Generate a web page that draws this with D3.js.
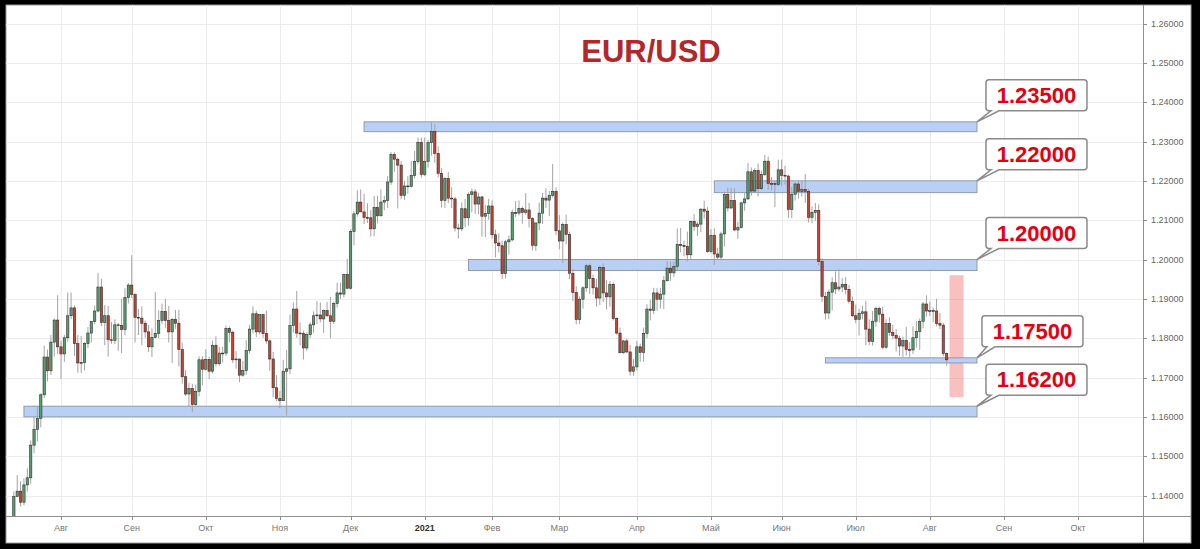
<!DOCTYPE html>
<html><head><meta charset="utf-8">
<script src="https://cdn.jsdelivr.net/npm/d3@7"></script>
<style>html,body{margin:0;padding:0;background:#000;}svg{display:block}</style>
</head><body><svg id="chart" width="1200" height="549"></svg>
<script>
// ---- data (EUR/USD daily) ----
const firstDay = "2020-07-14";
const lastAxisDay = "2021-10-01";
const skippedDays = ["2020-12-25", "2021-01-01"];
const monthLabels = ["Авг","Сен","Окт","Ноя","Дек","2021","Фев","Мар","Апр","Май","Июн","Июл","Авг","Сен","Окт"];
const priceTicks = [1.14,1.15,1.16,1.17,1.18,1.19,1.20,1.21,1.22,1.23,1.24,1.25,1.26];

const opens = [
1.1343,1.1398,1.1411,1.1383,1.1427,1.1445,1.1528,1.1568,1.1596,1.1656,1.1752,1.1717,1.1790,1.1846,
1.1778,1.1760,1.1801,1.1857,1.1877,1.1786,1.1737,1.1738,1.1786,1.1813,1.1842,1.1869,1.1930,1.1840,1.1857,1.1796,1.1794,1.1834,1.1832,1.1822,1.1903,
1.1935,1.1911,1.1853,1.1851,1.1838,1.1816,1.1778,1.1802,1.1812,1.1845,1.1868,1.1845,1.1816,1.1848,1.1838,1.1771,1.1702,1.1658,1.1672,1.1631,1.1665,1.1745,
1.1721,1.1746,1.1716,1.1782,1.1735,1.1762,1.1762,1.1825,1.1815,1.1745,1.1747,1.1706,1.1718,1.1769,1.1823,1.1862,1.1816,1.1860,1.1812,1.1793,1.1747,1.1674,
1.1647,1.1641,1.1716,1.1722,1.1832,1.1874,1.1813,1.1812,1.1775,1.1809,1.1834,1.1857,1.1859,1.1849,1.1870,1.1857,1.1843,1.1888,1.1915,1.1912,1.1962,
1.1927,1.2071,1.2116,1.2146,1.2121,1.2107,1.2106,1.2078,1.2132,1.2111,1.2146,1.2150,1.2197,1.2267,1.2255,1.2240,1.2163,1.2187,1.2186,1.2214,1.2249,1.2298,
1.2216,1.2249,1.2297,1.2325,1.2270,1.2219,1.2150,1.2206,1.2156,1.2154,1.2080,1.2078,1.2129,1.2106,1.2165,1.2172,1.2141,1.2159,1.2110,1.2117,
1.2136,1.2063,1.2042,1.2035,1.1964,1.2045,1.2050,1.2119,1.2118,1.2130,1.2120,1.2126,1.2104,1.2036,1.2093,1.2118,1.2156,1.2151,1.2163,1.2173,
1.2073,1.2047,1.2089,1.2064,1.1965,1.1916,1.1847,1.1899,1.1928,1.1984,1.1952,1.1928,1.1902,1.1980,1.1915,1.1905,1.1937,1.1850,1.1813,1.1763,1.1793,1.1765,1.1716,
1.1727,1.1778,1.1764,1.1812,1.1874,1.1871,1.1915,1.1899,1.1912,1.1946,1.1978,1.1966,1.1982,1.2038,1.2036,1.2033,1.2012,1.2097,1.2084,1.2090,1.2128,1.2123,
1.2020,1.2061,1.2014,1.2006,1.2065,1.2165,1.2131,1.2150,1.2075,1.2081,1.2144,1.2154,1.2223,1.2174,1.2226,1.2180,1.2216,1.2250,1.2193,1.2193,1.2191,
1.2228,1.2214,1.2212,1.2127,1.2166,1.2192,1.2173,1.2178,1.2173,1.2107,1.2120,1.2125,1.1995,1.1906,1.1864,1.1917,1.1941,1.1925,1.1930,1.1937,1.1924,1.1894,
1.1857,1.1848,1.1863,1.1867,1.1823,1.1792,1.1843,1.1876,1.1861,1.1777,1.1837,1.1815,1.1807,1.1800,1.1780,1.1794,1.1771,1.1770,1.1801,1.1817,1.1843,1.1887,
1.1869,1.1870,1.1869,1.1837,1.1833,1.1761];
const highs = [
1.1410,1.1452,1.1436,1.1444,1.1469,1.1540,1.1601,1.1627,1.1660,1.1781,1.1771,1.1808,1.1850,1.1909,
1.1794,1.1808,1.1916,1.1916,1.1883,1.1808,1.1806,1.1790,1.1828,1.1843,1.1883,1.1966,1.1951,1.1884,1.1882,1.1841,1.1848,1.1838,1.1900,1.1927,1.1940,
1.2011,1.1914,1.1874,1.1881,1.1845,1.1833,1.1825,1.1917,1.1871,1.1888,1.1900,1.1882,1.1851,1.1872,1.1872,1.1789,1.1719,1.1687,1.1684,1.1682,1.1754,1.1754,
1.1772,1.1753,1.1794,1.1805,1.1778,1.1778,1.1832,1.1830,1.1819,1.1767,1.1748,1.1742,1.1795,1.1834,1.1881,1.1870,1.1859,1.1860,1.1870,1.1797,1.1765,1.1706,
1.1666,1.1745,1.1770,1.1860,1.1891,1.1920,1.1840,1.1819,1.1815,1.1840,1.1868,1.1894,1.1891,1.1873,1.1892,1.1905,1.1893,1.1941,1.1941,1.1964,1.2002,
1.2077,1.2123,1.2176,1.2178,1.2167,1.2143,1.2126,1.2162,1.2162,1.2178,1.2162,1.2212,1.2273,1.2273,1.2259,1.2250,1.2200,1.2212,1.2251,1.2276,1.2310,1.2310,
1.2310,1.2304,1.2349,1.2344,1.2288,1.2232,1.2209,1.2222,1.2184,1.2160,1.2091,1.2145,1.2154,1.2171,1.2180,1.2179,1.2170,1.2162,1.2139,1.2154,
1.2150,1.2076,1.2067,1.2048,1.2050,1.2061,1.2127,1.2149,1.2150,1.2135,1.2169,1.2144,1.2108,1.2092,1.2145,1.2169,1.2181,1.2174,1.2243,1.2183,
1.2113,1.2094,1.2114,1.2071,1.1975,1.1932,1.1906,1.1932,1.1989,1.1990,1.1962,1.1951,1.1985,1.1990,1.1947,1.1945,1.1942,1.1853,1.1827,1.1796,1.1799,1.1783,1.1747,
1.1793,1.1786,1.1827,1.1886,1.1898,1.1928,1.1927,1.1928,1.1958,1.1995,1.1994,1.1994,1.2079,1.2080,1.2048,1.2071,1.2099,1.2116,1.2095,1.2130,1.2150,1.2133,
1.2077,1.2079,1.2030,1.2071,1.2172,1.2182,1.2182,1.2181,1.2096,1.2147,1.2169,1.2245,1.2234,1.2232,1.2244,1.2226,1.2266,1.2262,1.2210,1.2200,1.2254,
1.2254,1.2238,1.2216,1.2184,1.2196,1.2199,1.2199,1.2217,1.2180,1.2135,1.2144,1.2140,1.2004,1.1918,1.1924,1.1955,1.1970,1.1975,1.1953,1.1955,1.1935,1.1906,
1.1885,1.1875,1.1882,1.1895,1.1848,1.1869,1.1880,1.1880,1.1880,1.1848,1.1853,1.1834,1.1823,1.1806,1.1804,1.1829,1.1790,1.1830,1.1843,1.1850,1.1892,1.1909,
1.1893,1.1878,1.1900,1.1864,1.1839,1.1763];
const lows = [
1.1340,1.1396,1.1372,1.1375,1.1410,1.1430,1.1507,1.1537,1.1573,1.1648,1.1690,1.1706,1.1753,1.1760,
1.1696,1.1740,1.1791,1.1848,1.1755,1.1712,1.1711,1.1718,1.1775,1.1789,1.1835,1.1866,1.1831,1.1782,1.1753,1.1786,1.1785,1.1768,1.1762,1.1807,1.1888,
1.1902,1.1789,1.1808,1.1782,1.1801,1.1765,1.1752,1.1800,1.1800,1.1837,1.1826,1.1789,1.1737,1.1824,1.1728,1.1684,1.1653,1.1627,1.1612,1.1626,1.1652,1.1681,
1.1718,1.1696,1.1710,1.1729,1.1730,1.1738,1.1755,1.1790,1.1737,1.1723,1.1688,1.1702,1.1707,1.1761,1.1812,1.1803,1.1810,1.1801,1.1786,1.1717,1.1650,1.1640,
1.1622,1.1640,1.1603,1.1709,1.1814,1.1801,1.1782,1.1746,1.1768,1.1800,1.1814,1.1836,1.1840,1.1813,1.1853,1.1800,1.1836,1.1878,1.1900,1.1903,1.1925,
1.1924,1.2036,1.2109,1.2130,1.2090,1.2093,1.2058,1.2059,1.2092,1.2110,1.2125,1.2131,1.2190,1.2223,1.2130,1.2153,1.2151,1.2167,1.2183,1.2206,1.2242,1.2208,
1.2212,1.2233,1.2264,1.2246,1.2209,1.2132,1.2131,1.2143,1.2131,1.2071,1.2053,1.2072,1.2082,1.2086,1.2120,1.2116,1.2115,1.2058,1.2057,1.2101,
1.2053,1.2005,1.2018,1.1951,1.1952,1.2012,1.2046,1.2108,1.2112,1.2091,1.2114,1.2081,1.2023,1.2022,1.2075,1.2090,1.2131,1.2110,1.2158,1.2062,
1.2026,1.1991,1.2039,1.1950,1.1894,1.1835,1.1836,1.1875,1.1918,1.1912,1.1911,1.1880,1.1884,1.1892,1.1873,1.1880,1.1845,1.1809,1.1761,1.1760,1.1762,1.1705,1.1704,
1.1718,1.1740,1.1740,1.1800,1.1845,1.1861,1.1870,1.1875,1.1874,1.1944,1.1946,1.1955,1.1970,1.2018,1.2008,1.1995,1.2001,1.2072,1.2060,1.2070,1.2104,1.2017,
1.2016,1.1986,1.1999,1.2000,1.2033,1.2122,1.2128,1.2072,1.2052,1.2079,1.2124,1.2152,1.2162,1.2171,1.2160,1.2176,1.2212,1.2177,1.2175,1.2133,1.2187,
1.2187,1.2191,1.2105,1.2105,1.2150,1.2155,1.2160,1.2144,1.2094,1.2093,1.2098,1.1985,1.1892,1.1847,1.1848,1.1870,1.1912,1.1919,1.1917,1.1911,1.1888,1.1854,
1.1838,1.1807,1.1848,1.1782,1.1782,1.1781,1.1829,1.1840,1.1772,1.1773,1.1806,1.1797,1.1766,1.1755,1.1752,1.1756,1.1751,1.1760,1.1776,1.1770,1.1825,1.1855,
1.1856,1.1840,1.1830,1.1823,1.1754,1.1730];
const closes = [
1.1398,1.1411,1.1383,1.1427,1.1445,1.1528,1.1568,1.1596,1.1656,1.1752,1.1717,1.1790,1.1846,1.1778,
1.1760,1.1801,1.1857,1.1877,1.1786,1.1737,1.1738,1.1786,1.1813,1.1842,1.1869,1.1930,1.1840,1.1857,1.1796,1.1794,1.1834,1.1832,1.1822,1.1903,1.1935,
1.1911,1.1853,1.1851,1.1838,1.1816,1.1778,1.1802,1.1812,1.1845,1.1868,1.1845,1.1816,1.1848,1.1838,1.1771,1.1702,1.1658,1.1672,1.1631,1.1665,1.1745,1.1721,
1.1746,1.1716,1.1782,1.1735,1.1762,1.1762,1.1825,1.1815,1.1745,1.1747,1.1706,1.1718,1.1769,1.1823,1.1862,1.1816,1.1860,1.1812,1.1793,1.1747,1.1674,1.1647,
1.1641,1.1716,1.1722,1.1832,1.1874,1.1813,1.1812,1.1775,1.1809,1.1834,1.1857,1.1859,1.1849,1.1870,1.1857,1.1843,1.1888,1.1915,1.1912,1.1962,1.1927,
1.2071,1.2116,1.2146,1.2121,1.2107,1.2106,1.2078,1.2132,1.2111,1.2146,1.2150,1.2197,1.2267,1.2255,1.2240,1.2163,1.2187,1.2186,1.2214,1.2249,1.2298,1.2216,
1.2249,1.2297,1.2325,1.2270,1.2219,1.2150,1.2206,1.2156,1.2154,1.2080,1.2078,1.2129,1.2106,1.2165,1.2172,1.2141,1.2159,1.2110,1.2117,1.2136,
1.2063,1.2042,1.2035,1.1964,1.2045,1.2050,1.2119,1.2118,1.2130,1.2120,1.2126,1.2104,1.2036,1.2093,1.2118,1.2156,1.2151,1.2163,1.2173,1.2073,
1.2047,1.2089,1.2064,1.1965,1.1916,1.1847,1.1899,1.1928,1.1984,1.1952,1.1928,1.1902,1.1980,1.1915,1.1905,1.1937,1.1850,1.1813,1.1763,1.1793,1.1765,1.1716,1.1727,
1.1778,1.1764,1.1812,1.1874,1.1871,1.1915,1.1899,1.1912,1.1946,1.1978,1.1966,1.1982,1.2038,1.2036,1.2033,1.2012,1.2097,1.2084,1.2090,1.2128,1.2123,1.2020,
1.2061,1.2014,1.2006,1.2065,1.2165,1.2131,1.2150,1.2075,1.2081,1.2144,1.2154,1.2223,1.2174,1.2226,1.2180,1.2216,1.2250,1.2193,1.2193,1.2191,1.2228,
1.2214,1.2212,1.2127,1.2166,1.2192,1.2173,1.2178,1.2173,1.2107,1.2120,1.2125,1.1995,1.1906,1.1864,1.1917,1.1941,1.1925,1.1930,1.1937,1.1924,1.1894,1.1857,
1.1848,1.1863,1.1867,1.1823,1.1792,1.1843,1.1876,1.1861,1.1777,1.1837,1.1815,1.1807,1.1800,1.1780,1.1794,1.1771,1.1770,1.1801,1.1817,1.1843,1.1887,1.1869,
1.1870,1.1869,1.1837,1.1833,1.1761,1.1745];

// support / resistance zones
const levelLabels = ["1.23500","1.22000","1.20000","1.17500","1.16200"];
const zoneTops    = [1.2350, 1.2200, 1.2000, 1.1750, 1.1627];
const zoneBottoms = [1.2325, 1.2170, 1.1972, 1.1737, 1.1600];
const zoneStarts  = ["2020-12-07","2021-05-04","2021-01-21","2021-06-18","2020-07-17"];
const zoneEnd = "2021-08-20";
// highlighted range (red box)
const highlightDays = ["2021-08-10","2021-08-16"];
const highlightPrices = [1.1960, 1.1650];

// ---- build ----
function tradingDays(start, end, skip) {
  const out = [];
  const d = new Date(start + "T00:00:00Z"), e = new Date(end + "T00:00:00Z");
  while (d <= e) {
    const wd = d.getUTCDay(), s = d.toISOString().slice(0, 10);
    if (wd !== 0 && wd !== 6 && !skip.includes(s)) out.push(s);
    d.setUTCDate(d.getUTCDate() + 1);
  }
  return out;
}
const days = tradingDays(firstDay, lastAxisDay, skippedDays);
const dayIndex = s => days.indexOf(s);
const candles = closes.map((c, i) => ({i, o: opens[i], h: highs[i], l: lows[i], c}));

const monthStarts = [];
for (let i = 1; i < days.length; i++) if (days[i].slice(5, 7) !== days[i - 1].slice(5, 7)) monthStarts.push(i);

const svg = d3.select("#chart");
const W = 1200, H = 549;
const frame = {l: 6, t: 5, r: 1191, b: 543};
const plot = {l: 6, t: 5, r: 1143, b: 516};

const x = d3.scaleLinear().domain([monthStarts[0], monthStarts[monthStarts.length - 1]]).range([61, 1078]);
const y = d3.scaleLinear().domain([1.14, 1.26]).range([495.5, 23.5]);

svg.append("rect").attr("width", W).attr("height", H).attr("fill", "#000");
svg.append("rect").attr("x", frame.l).attr("y", frame.t).attr("width", frame.r - frame.l).attr("height", frame.b - frame.t)
  .attr("fill", "#fff").attr("stroke", "#9a9a9a").attr("stroke-width", 1);

svg.append("defs").append("clipPath").attr("id", "plotclip").append("rect")
  .attr("x", plot.l).attr("y", plot.t).attr("width", plot.r - plot.l).attr("height", plot.b - plot.t);

// grid
const grid = svg.append("g").attr("clip-path", "url(#plotclip)");
grid.selectAll("line.h").data(priceTicks).join("line")
  .attr("x1", plot.l).attr("x2", plot.r).attr("y1", d => Math.round(y(d)) + 0.5).attr("y2", d => Math.round(y(d)) + 0.5)
  .attr("stroke", "#ececec").attr("stroke-width", 1);
grid.selectAll("line.v").data(monthStarts).join("line")
  .attr("y1", plot.t).attr("y2", plot.b).attr("x1", d => Math.round(x(d)) + 0.5).attr("x2", d => Math.round(x(d)) + 0.5)
  .attr("stroke", "#ececec").attr("stroke-width", 1);

// title
svg.append("text").attr("x", 651).attr("y", 62).attr("text-anchor", "middle")
  .attr("font-family", "'Liberation Sans', Arial, sans-serif").attr("font-weight", "bold").attr("font-size", 31)
  .attr("fill", "#b3262a").text("EUR/USD");

const layer = svg.append("g").attr("clip-path", "url(#plotclip)");

// highlight box
layer.append("rect")
  .attr("x", x(dayIndex(highlightDays[0])) - 0.5)
  .attr("width", x(dayIndex(highlightDays[1])) - x(dayIndex(highlightDays[0])) + 0.5)
  .attr("y", y(highlightPrices[0])).attr("height", y(highlightPrices[1]) - y(highlightPrices[0]))
  .attr("fill", "rgba(242,105,105,0.42)");

// zones
const zones = levelLabels.map((t, k) => ({t, top: zoneTops[k], bot: zoneBottoms[k], s: dayIndex(zoneStarts[k]), e: dayIndex(zoneEnd)}));
layer.selectAll("rect.zone").data(zones).join("rect")
  .attr("x", d => x(d.s)).attr("width", d => x(d.e) - x(d.s))
  .attr("y", d => y(d.top)).attr("height", d => y(d.bot) - y(d.top))
  .attr("fill", "#b9cff3").attr("stroke", "#8d9bb2").attr("stroke-width", 1);

// candles
const bw = 2.3;
const cg = layer.append("g");
cg.selectAll("line.wick").data(candles).join("line")
  .attr("x1", d => x(d.i)).attr("x2", d => x(d.i)).attr("y1", d => y(d.h)).attr("y2", d => y(d.l))
  .attr("stroke", "#a3a3a3").attr("stroke-width", 1);
cg.selectAll("rect.body").data(candles).join("rect")
  .attr("x", d => x(d.i) - bw / 2).attr("width", bw)
  .attr("y", d => y(Math.max(d.o, d.c)))
  .attr("height", d => Math.max(0.8, Math.abs(y(d.o) - y(d.c))))
  .attr("fill", d => d.c >= d.o ? "#55a06f" : "#c9412f")
  .attr("stroke", "#2f2f2f").attr("stroke-width", 0.6);

// axes
const axisColor = "#8f8f8f";
svg.append("line").attr("x1", plot.r + 0.5).attr("x2", plot.r + 0.5).attr("y1", frame.t).attr("y2", frame.b).attr("stroke", axisColor);
svg.append("line").attr("x1", frame.l).attr("x2", frame.r).attr("y1", plot.b + 0.5).attr("y2", plot.b + 0.5).attr("stroke", axisColor);

const yAxis = svg.append("g");
yAxis.selectAll("line").data(priceTicks).join("line")
  .attr("x1", plot.r).attr("x2", plot.r + 4).attr("y1", d => Math.round(y(d)) + 0.5).attr("y2", d => Math.round(y(d)) + 0.5)
  .attr("stroke", axisColor);
yAxis.selectAll("text").data(priceTicks).join("text")
  .attr("x", plot.r + 8).attr("y", d => y(d)).attr("dy", "0.35em")
  .attr("font-family", "'Liberation Sans', Arial, sans-serif").attr("font-size", 9).attr("fill", "#666")
  .text(d => d3.format(".5f")(d));

const xAxis = svg.append("g");
xAxis.selectAll("line").data(monthStarts).join("line")
  .attr("x1", d => Math.round(x(d)) + 0.5).attr("x2", d => Math.round(x(d)) + 0.5)
  .attr("y1", plot.b).attr("y2", plot.b + 4).attr("stroke", axisColor);
xAxis.selectAll("text").data(monthStarts).join("text")
  .attr("x", d => x(d)).attr("y", plot.b + 15).attr("text-anchor", "middle")
  .attr("font-family", "'Liberation Sans', Arial, sans-serif").attr("font-size", 9)
  .attr("font-weight", (d, k) => monthLabels[k] === "2021" ? "bold" : "normal")
  .attr("fill", (d, k) => monthLabels[k] === "2021" ? "#333" : "#777")
  .text((d, k) => monthLabels[k]);

// callouts
const boxW = 101, boxH = 31, r = 3;
const boxDx = [9, 9, 9, 5, 9];
const callouts = svg.append("g");
zones.forEach((d, k) => {
  const tx = x(d.e), ty = y(d.top);
  const bx = tx + boxDx[k], by = ty - 42, R = bx + boxW, B = by + boxH;
  const p = `M${bx + r},${by} H${R - r} Q${R},${by} ${R},${by + r} V${B - r} Q${R},${B} ${R - r},${B}`
    + ` H${bx + 13} L${tx},${ty} L${bx + 5},${B} H${bx + r} Q${bx},${B} ${bx},${B - r} V${by + r} Q${bx},${by} ${bx + r},${by} Z`;
  callouts.append("path").attr("d", p).attr("fill", "#fff").attr("stroke", "#8a8a8a").attr("stroke-width", 1.5);
  callouts.append("text").attr("x", bx + boxW / 2).attr("y", by + 23).attr("text-anchor", "middle")
    .attr("font-family", "'Liberation Sans', Arial, sans-serif").attr("font-weight", "bold").attr("font-size", 22)
    .attr("fill", "#e3000f").text(d.t);
});
</script></body></html>
